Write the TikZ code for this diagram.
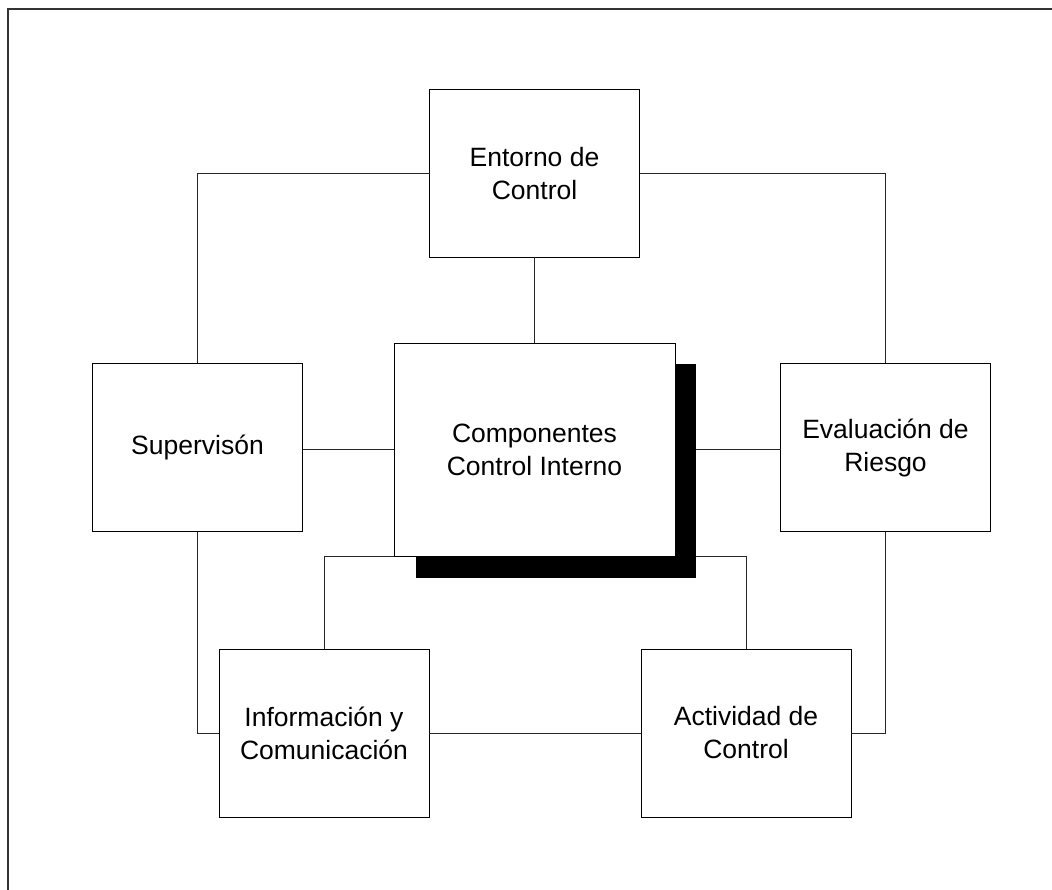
\documentclass[tikz,border=0pt]{standalone}
\usepackage{fontspec}
\setmainfont{Liberation Sans}
\begin{document}
\begin{tikzpicture}[x=1pt,y=-1pt,
  comp/.style={draw=black, line width=0.9pt, fill=white, inner sep=0pt, outer sep=0pt,
    align=center, font=\fontsize{26.5}{33}\selectfont,
    minimum width=210pt, minimum height=168pt},
  link/.style={draw=black!85, line width=0.9pt},
  frameline/.style={draw=black!80, line width=1.6pt}]
\useasboundingbox (0,0) rectangle (1052,890);
% page frame (open to the right and bottom)
\draw[frameline] (8,890) -- (8,9) -- (1052,9);

% the five components
\node[comp] (entorno) at (534.5,173.5) {Entorno de\\Control};
\node[comp] (superv) at (197.5,447.5) {Supervisón};
\node[comp] (evalr) at (885.5,447.5) {Evaluación de\\Riesgo};
\node[comp] (info) at (324,733) {Información y\\Comunicación};
\node[comp] (activ) at (746,733) {Actividad de\\Control};

% center box geometry (coordinates only, box drawn later)
\coordinate (cN) at (534.5,343);
\coordinate (cS) at (534.5,556);
\coordinate (cW) at (394,449);
\coordinate (cE) at (675,449);

% connectors
\draw[link] (entorno.west) -| (superv.north);
\draw[link] (entorno.east) -| (evalr.north);
\draw[link] (superv.south) |- (info.west);
\draw[link] (evalr.south) |- (activ.east);
\draw[link] (info.east) -- (activ.west);
\draw[link] (entorno.south) -- (cN);
\draw[link] (superv.east |- cW) -- (cW);
\draw[link] (evalr.west |- cE) -- (cE);
\draw[link] (info.north) |- (cS) -| (activ.north);

% drop shadow and central component
\fill[black] (416,364) rectangle (696,578);
\node[comp, minimum width=281pt, minimum height=213pt] (center) at (534.5,449.5)
  {Componentes\\Control Interno};
\end{tikzpicture}
\end{document}
